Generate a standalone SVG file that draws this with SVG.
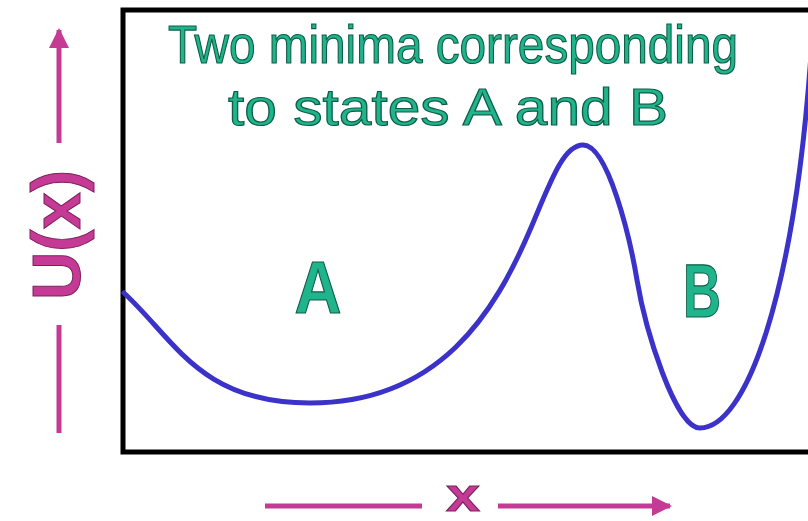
<svg xmlns="http://www.w3.org/2000/svg" width="808" height="521" viewBox="0 0 808 521">
<style>
.axis{stroke:#c53a94;stroke-width:5;fill:none}
.axlbl{fill:#c53a94;stroke:#7a1f5c;stroke-width:1;font-family:"Liberation Sans",Arial,sans-serif;font-weight:bold}
.title{fill:#1fb48c;stroke:#0e5e47;stroke-width:1.2;font-family:"Liberation Sans",Arial,sans-serif}
.state{fill:#1fb48c;stroke:#0e5e47;stroke-width:1.2;font-family:"Liberation Sans",Arial,sans-serif;font-weight:bold;text-anchor:middle}
</style>
<defs>
<marker id="ah" viewBox="0 0 10 10" refX="9" refY="5" markerWidth="4" markerHeight="4" orient="auto" markerUnits="strokeWidth">
<path d="M0,0 L10,5 L0,10 z" fill="#c53a94"/>
</marker>
</defs>
<rect width="808" height="521" fill="#ffffff"/>
<g id="frame">
<rect x="123" y="10" width="720" height="442" fill="none" stroke="#000" stroke-width="5"/>
</g>
<g id="curve">
<path d="M124,293 C175,340 200,403 310,403 C440,403 495,312 530,230 C550,183 563,145 583,145 C608,145 630,238 637,280 C645,328 675,428 700,428 C745,428 795,300 812,40" fill="none" stroke="#3b32c9" stroke-width="5" stroke-linecap="round"/>
</g>
<g id="title">
<text class="title" x="168" y="63" font-size="53" textLength="570" lengthAdjust="spacingAndGlyphs">Two minima corresponding</text>
<text class="title" x="228" y="125" font-size="52" textLength="440" lengthAdjust="spacingAndGlyphs">to states A and B</text>
</g>
<g id="stateA">
<text class="state" x="318" y="313" font-size="74" textLength="47" lengthAdjust="spacingAndGlyphs">A</text>
</g>
<g id="stateB">
<text class="state" x="702" y="317" font-size="76" textLength="38" lengthAdjust="spacingAndGlyphs">B</text>
</g>
<g id="connectors">
<line class="axis" x1="59" y1="143" x2="59" y2="30" marker-end="url(#ah)"/>
<line class="axis" x1="59" y1="325" x2="59" y2="433"/>
<line class="axis" x1="265" y1="506" x2="422" y2="506"/>
<line class="axis" x1="498" y1="506" x2="670" y2="506" marker-end="url(#ah)"/>
</g>
<g id="ylabel">
<text class="axlbl" transform="translate(80,235) rotate(-90)" x="0" y="0" font-size="68" text-anchor="middle" textLength="130" lengthAdjust="spacingAndGlyphs">U(x)</text>
</g>
<g id="xlabel">
<text class="axlbl" x="463" y="511" font-size="46" text-anchor="middle" textLength="34" lengthAdjust="spacingAndGlyphs">x</text>
</g>
</svg>
